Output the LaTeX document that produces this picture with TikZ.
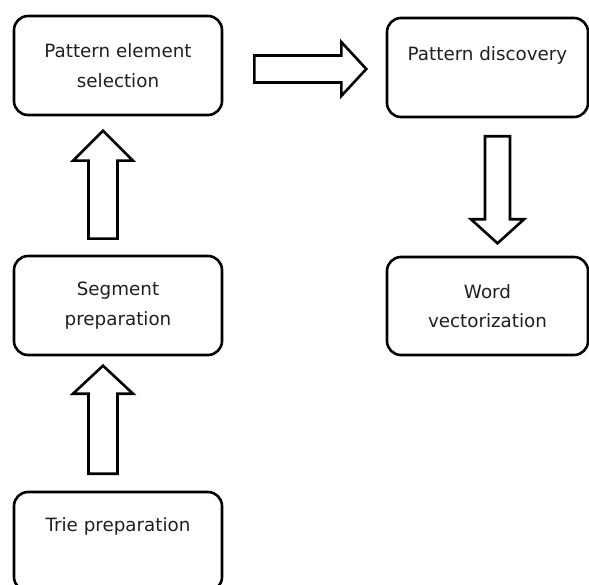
\documentclass[tikz,border=0pt]{standalone}
\usepackage{fontspec}
\setmainfont{DejaVu Sans}
\usetikzlibrary{calc}
\begin{document}
\begin{tikzpicture}[x=1pt,y=-1pt,
  stage/.style={draw=black, line width=2.6pt, rounded corners=14pt,
    align=center, text=black!88, inner sep=0pt,
    font=\fontsize{18.3}{30.5}\selectfont},
  arrowline/.style={draw=black, line width=2.6pt, fill=white},
  pics/blockarr/.style n args={4}{code={%
    % #1 length, #2 head length, #3 shaft half width, #4 head half width
    \path[arrowline] (0,-#3) -- (#1-#2,-#3) -- (#1-#2,-#4) -- (#1,0)
      -- (#1-#2,#4) -- (#1-#2,#3) -- (0,#3) -- cycle;}}]
\useasboundingbox (0,0) rectangle (589,585);
\clip (0,0) rectangle (589,585);

% process stages
\node[stage, minimum width=208, minimum height=99] (pes) at (118,65.5)
  {Pattern element\\[-1pt]selection};
\node[stage, minimum width=201, minimum height=99] (pd) at (487.5,67.5)
  {Pattern discovery\\[-12pt]\strut};
\node[stage, minimum width=208, minimum height=99] (sp) at (118,305.5)
  {Segment\\[-1pt]preparation};
\node[stage, minimum width=201, minimum height=98] (wv) at (487.5,306)
  {Word\\[-1pt]vectorization};
\node[stage, minimum width=208, minimum height=99] (tp) at (118,541.5)
  {Trie preparation\\[-6pt]\strut};

% hollow block arrows between the stages
\pic at ($(pes.east)+(31,3.5)$) {blockarr={112}{25}{13.5}{27}};
\pic[rotate=-90] at ($(pd.south)+(10,18)$) {blockarr={107}{24}{12.5}{26.5}};
\pic[rotate=90] at ($(sp.north)+(-15,-16)$) {blockarr={108}{30}{14.5}{30}};
\pic[rotate=90] at ($(tp.north)+(-15,-17)$) {blockarr={108}{28}{14.5}{30}};
\end{tikzpicture}
\end{document}
